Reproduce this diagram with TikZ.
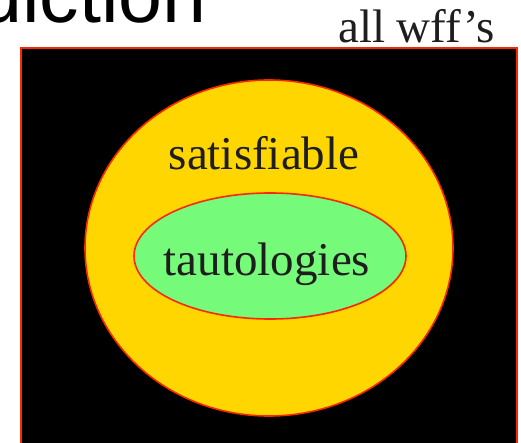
\documentclass[tikz,border=0pt]{standalone}
\usepackage{fontspec}
\setmainfont{Liberation Serif}
\newfontfamily\slidefont{Liberation Sans}
\usetikzlibrary{shapes.geometric}

\definecolor{setred}{RGB}{250,40,0}
\definecolor{setyellow}{RGB}{255,214,0}
\definecolor{setgreen}{RGB}{118,250,122}
\definecolor{settext}{RGB}{30,30,30}

\begin{document}
\begin{tikzpicture}[x=1pt, y=-1pt,
  setbox/.style ={draw=setred, line width=2pt, fill=black},
  setoval/.style={draw=setred, line width=1.6pt, ellipse, inner sep=0pt},
  lbl/.style    ={font=\fontsize{47}{56}\selectfont, text=settext,
                  inner sep=0pt, anchor=base},
]
\useasboundingbox (0,0) rectangle (521,443);

% heading cut off at the top of the slide
\node[font=\slidefont\fontsize{79}{92}\selectfont, inner sep=0pt,
      anchor=base west] (head) at (-22,23) {diction};

% all wff's
\draw[setbox] (21,48) rectangle (517,470);
\node[lbl, anchor=base west] (all) at (338,43) {all wff's};

\node[setoval, fill=setyellow, minimum width=368pt, minimum height=336pt]
  (sat) at (269,248) {};
\node[setoval, fill=setgreen, minimum width=272pt, minimum height=126pt]
  (taut) at (270,256) {};

\node[lbl] (satlbl)  at (264,170) {satisfiable};
\node[lbl] (tautlbl) at (267,275) {tautologies};
\end{tikzpicture}
\end{document}
